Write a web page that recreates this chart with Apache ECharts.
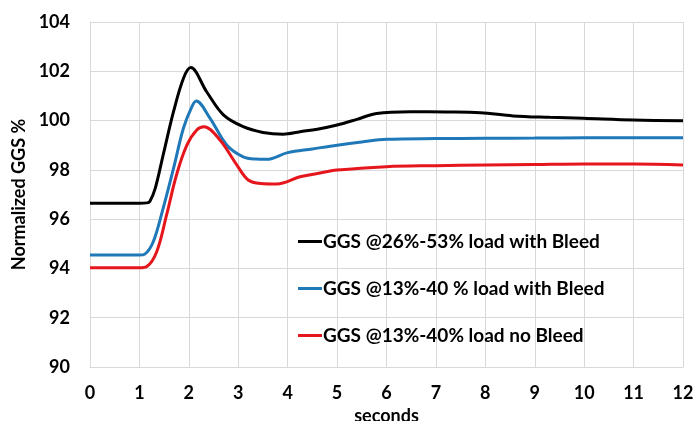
<!DOCTYPE html>
<html><head><meta charset="utf-8">
<script src="https://cdn.jsdelivr.net/npm/echarts@6/dist/echarts.min.js"></script>
<style>html,body{margin:0;padding:0;background:#fff}#c{width:694px;height:421px}</style>
</head><body><div id="c"></div>
<script>
const seriesNames = ['GGS @26%-53% load with Bleed', 'GGS @13%-40 % load with Bleed', 'GGS @13%-40% load no Bleed'];
const seriesColors = ['#000000', '#1f78b8', '#e5161c'];
const blackX = [0, 0.5, 1.0, 1.15, 1.21, 1.32, 1.48, 1.69, 1.89, 2.04, 2.36, 2.70, 3.1, 3.5, 3.91, 4.25, 4.6, 5.0, 5.4, 5.8, 6.48, 7.2, 7.9, 8.56, 9.3, 9.98, 11.0, 12.0];
const blackY = [96.65, 96.65, 96.65, 96.66, 96.72, 97.25, 98.6, 100.36, 101.71, 102.15, 101.17, 100.23, 99.75, 99.52, 99.45, 99.55, 99.65, 99.82, 100.05, 100.29, 100.36, 100.35, 100.32, 100.19, 100.13, 100.09, 100.02, 99.99];
const blueX = [0, 0.5, 1.0, 1.11, 1.28, 1.48, 1.69, 1.89, 2.06, 2.15, 2.43, 2.77, 3.1, 3.35, 3.58, 4.0, 4.5, 5.0, 5.5, 6.0, 7.0, 8.0, 9.0, 10.0, 11.0, 12.0];
const blueY = [94.54, 94.54, 94.54, 94.58, 95.08, 96.44, 98.06, 99.69, 100.56, 100.79, 100.09, 99.0, 98.53, 98.44, 98.43, 98.7, 98.85, 99.0, 99.13, 99.24, 99.27, 99.28, 99.29, 99.3, 99.3, 99.3];
const redX = [0, 0.5, 1.0, 1.15, 1.35, 1.55, 1.75, 1.96, 2.16, 2.31, 2.63, 2.97, 3.2, 3.45, 3.78, 4.25, 4.6, 5.0, 6.0, 7.0, 8.0, 9.0, 10.0, 11.0, 12.0];
const redY = [94.03, 94.03, 94.03, 94.08, 94.68, 96.17, 97.79, 99.0, 99.62, 99.75, 99.21, 98.2, 97.59, 97.45, 97.43, 97.72, 97.85, 97.99, 98.13, 98.17, 98.2, 98.22, 98.24, 98.24, 98.2];
const xTicks = [0,1,2,3,4,5,6,7,8,9,10,11,12];
const yTicks = [90,92,94,96,98,100,102,104];

const font = 'Lato, "Open Sans", sans-serif';
const pairs = (xs, ys) => xs.map((x, i) => [x, ys[i]]);
const allData = [pairs(blackX, blackY), pairs(blueX, blueY), pairs(redX, redY)];

const chart = echarts.init(document.getElementById('c'), null, {renderer: 'canvas'});
chart.setOption({
  animation: false,
  grid: {left: 90, right: 11, top: 22, bottom: 54, outerBoundsMode: 'none', containLabel: false},
  legend: {
    orient: 'vertical', left: 293, top: 226, itemGap: 26,
    icon: 'rect', itemWidth: 24, itemHeight: 3,
    textStyle: {fontFamily: font, fontWeight: 'bold', fontSize: 19, color: '#000', lineHeight: 21, padding: [0,0,0,-4]},
    data: seriesNames
  },
  xAxis: {
    type: 'value', min: xTicks[0], max: xTicks[xTicks.length-1], interval: 1,
    name: 'seconds', nameLocation: 'middle', nameGap: 33,
    nameTextStyle: {fontFamily: font, fontWeight: 'bold', fontSize: 18, color: '#000'},
    axisLine: {show: true, lineStyle: {color: '#d9d9d9'}},
    axisTick: {show: false},
    axisLabel: {margin: 17, fontFamily: font, fontWeight: 'bold', fontSize: 18, color: '#000'},
    splitLine: {show: true, lineStyle: {color: '#d9d9d9', width: 1}}
  },
  yAxis: {
    type: 'value', min: yTicks[0], max: yTicks[yTicks.length-1], interval: 2,
    name: 'Normalized GGS %', nameLocation: 'middle', nameGap: 57, nameRotate: 90,
    nameTextStyle: {fontFamily: font, fontWeight: 'bold', fontSize: 18, color: '#000'},
    axisLine: {show: true, lineStyle: {color: '#d9d9d9'}},
    axisTick: {show: false},
    axisLabel: {margin: 20, fontFamily: font, fontWeight: 'bold', fontSize: 18, color: '#000'},
    splitLine: {show: true, lineStyle: {color: '#d9d9d9', width: 1}}
  },
  series: seriesNames.map((n, i) => ({
    name: n, type: 'line', data: allData[i], smooth: 0.35, showSymbol: false,
    color: seriesColors[i],
    lineStyle: {width: 3, color: seriesColors[i]}
  }))
});
</script></body></html>
